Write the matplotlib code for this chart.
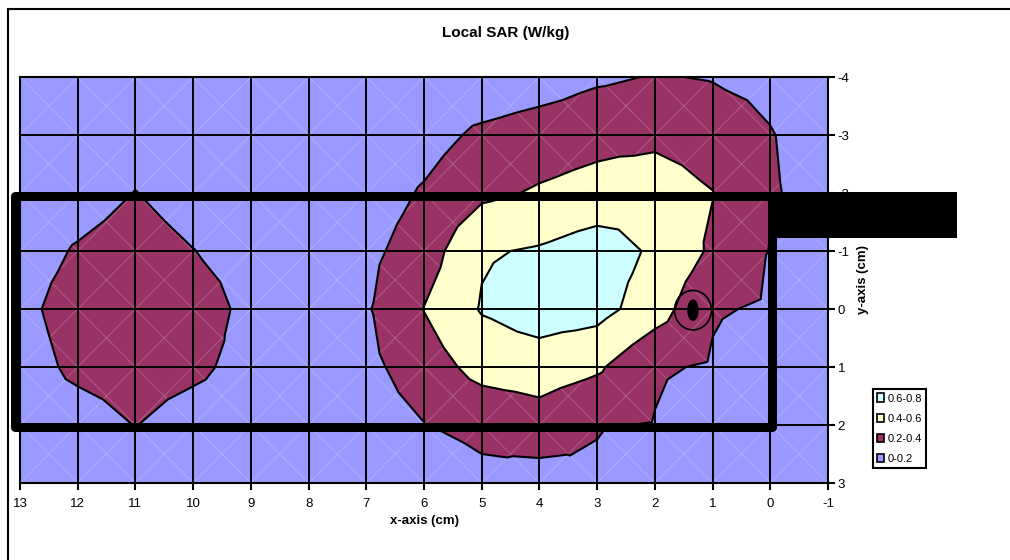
#Import libraries
import numpy as np
import matplotlib.pyplot as plt
import matplotlib.tri as mtri
from matplotlib.patches import Rectangle, Ellipse, Patch
from matplotlib.collections import LineCollection

plt.rcParams['font.family'] = ['Liberation Sans', 'DejaVu Sans']
plt.rcParams['axes.unicode_minus'] = False

#Grid positions (cm)
x_cm = [-1, 0, 1, 2, 3, 4, 5, 6, 7, 8, 9, 10, 11, 12, 13]
y_cm = [-4, -3, -2, -1, 0, 1, 2, 3]

#Local SAR (W/kg) at each grid node, one row per y value, columns follow x_cm
sar_y_m4 = [0.04, 0.15, 0.19, 0.21, 0.17, 0.096, 0.05, 0.05, 0.05, 0.05, 0.05, 0.05, 0.06, 0.05, 0.04]
sar_y_m3 = [0.10, 0.21, 0.30, 0.35, 0.34, 0.30, 0.24, 0.12, 0.06, 0.05, 0.06, 0.07, 0.10, 0.07, 0.05]
sar_y_m2 = [0.12, 0.22, 0.405, 0.52, 0.47, 0.42, 0.36, 0.22, 0.10, 0.07, 0.08, 0.10, 0.205, 0.10, 0.07]
sar_y_m1 = [0.10, 0.193, 0.37, 0.57, 0.70, 0.62, 0.58, 0.30, 0.15, 0.10, 0.10, 0.205, 0.30, 0.22, 0.10]
sar_y_0 = [0.05, 0.18, 0.216, 0.495, 0.67, 0.70, 0.615, 0.405, 0.18, 0.12, 0.13, 0.33, 0.38, 0.30, 0.14]
sar_y_1 = [0.04, 0.10, 0.183, 0.22, 0.43, 0.50, 0.47, 0.30, 0.15, 0.10, 0.12, 0.25, 0.30, 0.25, 0.10]
sar_y_2 = [0.03, 0.06, 0.10, 0.193, 0.21, 0.31, 0.25, 0.195, 0.10, 0.08, 0.07, 0.10, 0.205, 0.10, 0.07]
sar_y_3 = [0.02, 0.03, 0.05, 0.08, 0.17, 0.117, 0.15, 0.08, 0.05, 0.04, 0.04, 0.05, 0.06, 0.05, 0.04]

#Contour bands
levels = [0, 0.2, 0.4, 0.6, 0.8]
band_labels = ['0-0.2', '0.2-0.4', '0.4-0.6', '0.6-0.8']
band_colors = ['#9999FF', '#993366', '#FFFFCC', '#CCFFFF']

#Phantom outline, feed bar and marker (cm)
box_x = [13.09, -0.03]
box_y = [-1.95, 2.03]
bar_x = [-0.05, -3.24]
bar_y = [-2.02, -1.22]
marker_xy = [1.34, 0.02]

Z = np.array([sar_y_m4, sar_y_m3, sar_y_m2, sar_y_m1, sar_y_0, sar_y_1, sar_y_2, sar_y_3])
X, Y = np.meshgrid(x_cm, y_cm)
ny, nx = Z.shape

#Split every cell into 4 triangles around its centre (like the spreadsheet does)
px = list(X.ravel().astype(float))
py = list(Y.ravel().astype(float))
pz = list(Z.ravel())
tris = []
for i in range(ny - 1):
    for j in range(nx - 1):
        a = i * nx + j
        b = i * nx + j + 1
        c = (i + 1) * nx + j + 1
        d = (i + 1) * nx + j
        k = len(px)
        px.append((X[i, j] + X[i, j + 1]) / 2)
        py.append((Y[i, j] + Y[i + 1, j]) / 2)
        pz.append((Z[i, j] + Z[i, j + 1] + Z[i + 1, j + 1] + Z[i + 1, j]) / 4)
        tris += [[a, b, k], [b, c, k], [c, d, k], [d, a, k]]
tri = mtri.Triangulation(px, py, tris)

fig = plt.figure(figsize=(10.1, 5.6), dpi=100)
ax = fig.add_axes([20 / 1010, 1 - 483 / 560, 808 / 1010, 406 / 560])

ax.tricontourf(tri, pz, levels=levels, colors=band_colors, zorder=1)

#faint diagonals of each cell
diag = []
for i in range(ny - 1):
    for j in range(nx - 1):
        diag.append([(X[i, j], Y[i, j]), (X[i + 1, j + 1], Y[i + 1, j + 1])])
        diag.append([(X[i, j + 1], Y[i, j + 1]), (X[i + 1, j], Y[i + 1, j])])
ax.add_collection(LineCollection(diag, colors='white', linewidths=0.5, alpha=0.28, zorder=1.5))

ax.tricontour(tri, pz, levels=levels[1:-1], colors='k', linewidths=1.5, zorder=3)

ax.set_xlim(13, -1)
ax.set_ylim(3, -4)
ax.set_xticks(x_cm)
ax.set_yticks(y_cm)
ax.set_axisbelow(False)
ax.grid(True, color='k', linewidth=1.4, zorder=2.5)
ax.yaxis.tick_right()
ax.yaxis.set_label_position('right')
ax.tick_params(axis='both', direction='out', length=5, width=1.5, labelsize=9.5, colors='k')
ax.tick_params(axis='x', pad=6)
ax.tick_params(axis='y', pad=2)
for s in ax.spines.values():
    s.set_linewidth(1.5)

ax.set_xlabel('x-axis (cm)', fontsize=9.5, fontweight='bold')
ax.xaxis.set_label_coords(0.5, -0.08)
ax.set_ylabel('y-axis (cm)', fontsize=9.5, fontweight='bold')
ax.yaxis.set_label_coords(1.036, 0.5)

#overlays
ax.add_patch(Rectangle((box_x[1], box_y[0]), box_x[0] - box_x[1], box_y[1] - box_y[0],
                       fill=False, edgecolor='k', linewidth=6.5, joinstyle='round',
                       clip_on=False, zorder=6))
ax.add_patch(Rectangle((bar_x[1], bar_y[0]), bar_x[0] - bar_x[1], bar_y[1] - bar_y[0],
                       facecolor='k', edgecolor='none', clip_on=False, zorder=7))
ax.add_patch(Ellipse(marker_xy, 0.64, 0.68, fill=False, edgecolor='k', linewidth=1.2, zorder=6))
ax.add_patch(Ellipse(marker_xy, 0.2, 0.37, facecolor='k', edgecolor='none', zorder=6))

fig.text(506 / 1010, 1 - 33 / 560, 'Local SAR (W/kg)', ha='center', va='center',
         fontsize=11, fontweight='bold')

handles = [Patch(facecolor=band_colors[i], edgecolor='k', linewidth=1.2, label=band_labels[i])
           for i in range(len(band_labels) - 1, -1, -1)]
leg = fig.legend(handles=handles, loc='upper left', bbox_to_anchor=(873 / 1010, 1 - 389 / 560),
                 fontsize=8, handlelength=0.6, handleheight=0.8, handletextpad=0.3,
                 labelspacing=0.9, borderpad=0.4, borderaxespad=0, fancybox=False,
                 framealpha=1, edgecolor='k')
leg.get_frame().set_linewidth(1.5)

#outer chart border
fig.patches.append(Rectangle((8 / 1010, -0.5), 1.5, 1.5 - 9 / 560, transform=fig.transFigure,
                             fill=False, edgecolor='k', linewidth=1.5))

fig.savefig('out.png', dpi=100)
